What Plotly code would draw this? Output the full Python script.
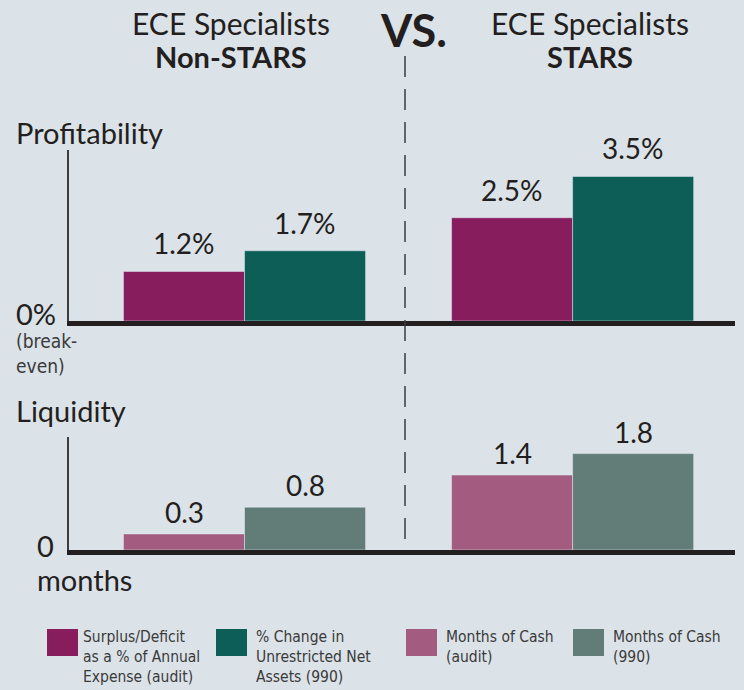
import plotly.graph_objects as go

# ---------------- data ----------------
groups = ["Non-STARS", "STARS"]
surplus_pct = [1.2, 2.5]            # Surplus/Deficit as a % of Annual Expense (audit)
net_assets_change_pct = [1.7, 3.5]  # % Change in Unrestricted Net Assets (990)
months_cash_audit = [0.3, 1.4]      # Months of Cash (audit)
months_cash_990 = [0.8, 1.8]        # Months of Cash (990)

legend_labels = [
    "Surplus/Deficit<br>as a % of Annual<br>Expense (audit)",
    "% Change in<br>Unrestricted Net<br>Assets (990)",
    "Months of Cash<br>(audit)",
    "Months of Cash<br>(990)",
]
colors = ["#881d5e", "#0d5e57", "#a35c80", "#627c78"]

# ---------------- layout helpers ----------------
W, H = 744, 690
BG = "#dbe2e8"
INK = "#231f20"
MAIN_FONT = "Lato, 'Open Sans', sans-serif"
NARROW_FONT = "'Liberation Sans Narrow', 'Arial Narrow', 'DejaVu Sans Condensed', sans-serif"


def px(x):
    return x / W


def py(y):
    return (H - y) / H


BARGAP = 0.262
CAT_PX = 328.0
BAR_PX = CAT_PX * (1 - BARGAP) / 2

fig = go.Figure()

fig.add_trace(go.Bar(x=groups, y=surplus_pct, name="Surplus/Deficit", marker_color=colors[0],
                     xaxis="x", yaxis="y", showlegend=False))
fig.add_trace(go.Bar(x=groups, y=net_assets_change_pct, name="% Change", marker_color=colors[1],
                     xaxis="x", yaxis="y", showlegend=False))
fig.add_trace(go.Bar(x=groups, y=months_cash_audit, name="Months of Cash (audit)", marker_color=colors[2],
                     xaxis="x2", yaxis="y2", showlegend=False))
fig.add_trace(go.Bar(x=groups, y=months_cash_990, name="Months of Cash (990)", marker_color=colors[3],
                     xaxis="x2", yaxis="y2", showlegend=False))

xcommon = dict(type="category", range=[-0.535, 1.495], domain=[px(69), px(735)],
               showline=True, linewidth=5, linecolor=INK, showticklabels=False,
               ticks="", showgrid=False, zeroline=False, fixedrange=True)
ycommon = dict(showline=True, linewidth=1.5, linecolor="#3d3d3d", showticklabels=False,
               ticks="", showgrid=False, zeroline=False, fixedrange=True)

annotations = []

# value labels
for series, fmt, xr, yr, side, ysh in [
    (surplus_pct, "{}%", "x", "y", -1, 9),
    (net_assets_change_pct, "{}%", "x", "y", 1, 9),
    (months_cash_audit, "{}", "x2", "y2", -1, 3),
    (months_cash_990, "{}", "x2", "y2", 1, 3),
]:
    for g, v in zip(groups, series):
        annotations.append(dict(x=g, y=v, xref=xr, yref=yr, text=fmt.format(v),
                                showarrow=False, xanchor="center", yanchor="bottom",
                                xshift=side * BAR_PX / 2, yshift=ysh,
                                font=dict(family=MAIN_FONT, size=28, color=INK)))


def txt(x, y, text, size, family=MAIN_FONT, bold=False, xanchor="left", yanchor="middle",
        color=INK, align="left"):
    t = f"<b>{text}</b>" if bold else text
    annotations.append(dict(x=px(x), y=py(y), xref="paper", yref="paper", text=t,
                            showarrow=False, xanchor=xanchor, yanchor=yanchor, align=align,
                            font=dict(family=family, size=size, color=color)))


# headers
txt(231, 23, "ECE Specialists", 30, xanchor="center")
txt(231, 57, "Non-STARS", 29, bold=True, xanchor="center")
txt(590, 23, "ECE Specialists", 30, xanchor="center")
txt(590, 57, "STARS", 29, bold=True, xanchor="center")
txt(414, 30, "VS.", 45, bold=True, xanchor="center")

# panel labels
txt(14, 132, "Profitability", 29)
txt(14, 313, "0%", 29)
txt(14, 354, "(break-<br>even)", 19, family=NARROW_FONT, color="#3a3a3a", yanchor="middle")
txt(14, 410, "Liquidity", 29)
txt(35, 545, "0", 29)
txt(35, 579, "months", 29)

# legend
legend_sq = [(47, 78), (216, 247), (406, 437), (573, 604)]
legend_tx = [81, 254, 444, 611]
shapes = []
for (x0, x1), tx, lab, c in zip(legend_sq, legend_tx, legend_labels, colors):
    shapes.append(dict(type="rect", xref="paper", yref="paper", x0=px(x0), x1=px(x1),
                       y0=py(656), y1=py(629), fillcolor=c, line=dict(width=0)))
    annotations.append(dict(x=px(tx), y=py(626), xref="paper", yref="paper", text=lab,
                            showarrow=False, xanchor="left", yanchor="top", align="left",
                            font=dict(family=NARROW_FONT, size=15.5, color="#3a3a3a")))

# dashed divider
shapes.append(dict(type="line", xref="paper", yref="paper", x0=px(405), x1=px(405),
                   y0=py(56), y1=py(550), line=dict(color="#3d3d3d", width=1.5, dash="21px,12px")))

fig.update_layout(
    width=W, height=H,
    margin=dict(l=0, r=0, t=0, b=0),
    paper_bgcolor=BG, plot_bgcolor=BG,
    barmode="group", bargap=BARGAP, bargroupgap=0,
    xaxis=dict(**xcommon, anchor="y"),
    yaxis=dict(**ycommon, range=[0, 4.14], domain=[py(321), py(150)], anchor="x"),
    xaxis2=dict(**xcommon, anchor="y2"),
    yaxis2=dict(**ycommon, range=[0, 2.11], domain=[py(550), py(437)], anchor="x2"),
    annotations=annotations,
    shapes=shapes,
    showlegend=False,
)

fig.write_html("out.html", config={"displayModeBar": False},
               post_script="document.body.style.margin='0px';document.body.style.background='%s';" % BG)
